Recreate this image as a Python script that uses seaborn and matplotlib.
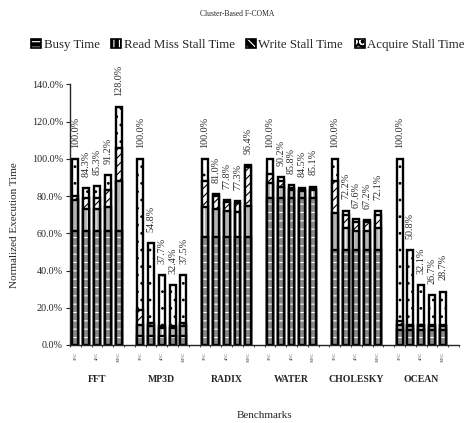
import numpy as np
import pandas as pd
import matplotlib
matplotlib.use("Agg")
import matplotlib.pyplot as plt
from matplotlib.patches import Patch
from matplotlib.ticker import FuncFormatter, MultipleLocator
import seaborn as sns

# Benchmarks and cluster configurations
benchmarks = ["FFT", "MP3D", "RADIX", "WATER", "CHOLESKY", "OCEAN"]
configs = ["1P/C", "2P/C", "4P/C", "8P/C", "16P/C"]
shown_configs = ["1P/C", "4P/C", "16P/C"]

# Execution-time components (percent of the 1P/C run), one row per benchmark
busy = [
    [61, 61, 61, 61, 61],
    [5, 5, 5, 5, 5],
    [58, 58, 58, 58, 58],
    [79, 79, 79, 79, 79],
    [51, 51, 51, 51, 51],
    [8, 8, 8, 8, 8],
]
read_miss = [
    [17, 12, 12, 13, 27],
    [6, 5, 4, 4, 5],
    [16, 15, 14, 13.5, 16.5],
    [8, 6, 4, 3.5, 4],
    [20, 12, 10, 10, 12],
    [3, 2, 2, 2, 2],
]
write_stall = [
    [2, 6, 6, 9, 18],
    [8, 2, 1, 1, 2],
    [14, 7, 5, 5, 21],
    [5, 3, 1.5, 1, 1],
    [17, 7, 5, 5, 7],
    [2, 1, 1, 1, 1],
]
acquire_stall = [
    [20, 5.3, 6.3, 8.2, 22],
    [81, 42.8, 27.7, 22.4, 25.5],
    [12, 1, 0.8, 0.8, 0.9],
    [8, 2.2, 1.3, 1, 1.1],
    [12, 2.2, 1.6, 1.2, 2.1],
    [87, 39.8, 21.1, 15.7, 17.7],
]

components = ["Busy Time", "Read Miss Stall Time", "Write Stall Time", "Acquire Stall Time"]
series = [busy, read_miss, write_stall, acquire_stall]

# fill colour, hatch pattern, hatch colour for each component's bar segments
styles = {
    "Busy Time": ("#8a8a8a", "--", "white"),
    "Read Miss Stall Time": ("#b5b5b5", "||", "white"),
    "Write Stall Time": ("white", "////", "black"),
    "Acquire Stall Time": ("white", "..", "black"),
}
# legend keys: black squares with white patterns
key_hatch = {
    "Busy Time": "---",
    "Read Miss Stall Time": "|||",
    "Write Stall Time": "\\\\\\\\",
    "Acquire Stall Time": "OO",
}

sns.set_style("ticks")
plt.rcParams["font.family"] = ["Liberation Serif", "DejaVu Serif"]
plt.rcParams["hatch.linewidth"] = 0.8

# long table: slot position, benchmark, config and cumulative top of each component
rows = []
gap = len(configs) + 1
for g, b in enumerate(benchmarks):
    for i, c in enumerate(configs):
        cum = 0.0
        for comp, data in zip(components, series):
            cum += data[g][i]
            rows.append({"pos": g * gap + i, "bench": b, "config": c,
                         "component": comp, "top": cum})
df = pd.DataFrame(rows)

fig = plt.figure(figsize=(4.75, 4.23), dpi=100)
ax = fig.add_axes([70 / 475, 1 - 345 / 423, (459 - 70) / 475, (345 - 84.3) / 423])

# draw cumulative layers from the top component down so lower ones overlay
for comp in reversed(components):
    face, hatch, hcol = styles[comp]
    layer = df[df["component"] == comp]
    n_before = len(ax.patches)
    sns.barplot(data=layer, x="pos", y="top", native_scale=True, width=0.55,
                color=face, saturation=1, edgecolor="black", linewidth=1.7,
                errorbar=None, ax=ax)
    for p in ax.patches[n_before:]:
        p.set_facecolor(face)
        p.set_hatch(hatch)
        p._hatch_color = matplotlib.colors.to_rgba(hcol)

# value labels above each bar
totals = df[df["component"] == components[-1]]
for _, r in totals.iterrows():
    ax.annotate(f"{r['top']:.1f}%", xy=(r["pos"], r["top"]), xytext=(0, 8),
                textcoords="offset points", rotation=90, ha="center", va="bottom",
                fontsize=7.3, color="#2a2a2a")

ax.set_xlim(-0.5, gap * len(benchmarks) - 0.5)
ax.set_ylim(0, 140)
ax.yaxis.set_major_locator(MultipleLocator(20))
ax.yaxis.set_major_formatter(FuncFormatter(lambda v, _: f"{v:.1f}%"))
ax.tick_params(axis="y", labelsize=7.3, length=3, width=0.8, pad=2)

tick_pos = [g * gap + configs.index(c) for g in range(len(benchmarks)) for c in shown_configs]
tick_lab = [c for _ in benchmarks for c in shown_configs]
ax.set_xticks(tick_pos)
ax.set_xticklabels(tick_lab, rotation=90, fontsize=3)
ax.tick_params(axis="x", length=0, pad=5)
ax.set_xticks(np.arange(-0.5, gap * len(benchmarks), 1), minor=True)
ax.tick_params(axis="x", which="minor", length=1.5, width=0.6)
ax.set_xlabel("")
ax.set_ylabel("")
sns.despine(ax=ax, top=True, right=True)
ax.spines["left"].set_linewidth(1.0)
ax.spines["bottom"].set_linewidth(1.0)

# benchmark names under each group
for g, b in enumerate(benchmarks):
    ax.annotate(b, xy=(g * gap + 2, 0), xycoords=("data", "axes fraction"),
                xytext=(0, -25), textcoords="offset points", ha="center", va="center",
                fontsize=7, fontweight="bold")

fig.text(264.5 / 475, 1 - 415 / 423, "Benchmarks", ha="center", va="center", fontsize=8)
fig.text(15 / 475, 1 - 225 / 423, "Normalized Execution Time", rotation=90,
         ha="center", va="center", fontsize=8)
fig.text(237 / 475, 1 - 14 / 423, "Cluster-Based F-COMA", ha="center", va="center",
         fontsize=5.5)

handles = []
for comp in components:
    h = Patch(facecolor="black", edgecolor="black", hatch=key_hatch[comp],
              linewidth=1.2, label=comp)
    h._hatch_color = matplotlib.colors.to_rgba("white")
    handles.append(h)
fig.legend(handles=handles, loc="center", bbox_to_anchor=(248 / 475, 1 - 45 / 423),
           ncol=4, frameon=False, fontsize=9.3, handlelength=0.75, handleheight=0.75,
           handletextpad=0.2, columnspacing=0.9, borderaxespad=0)

fig.savefig("out.png", dpi=100)
